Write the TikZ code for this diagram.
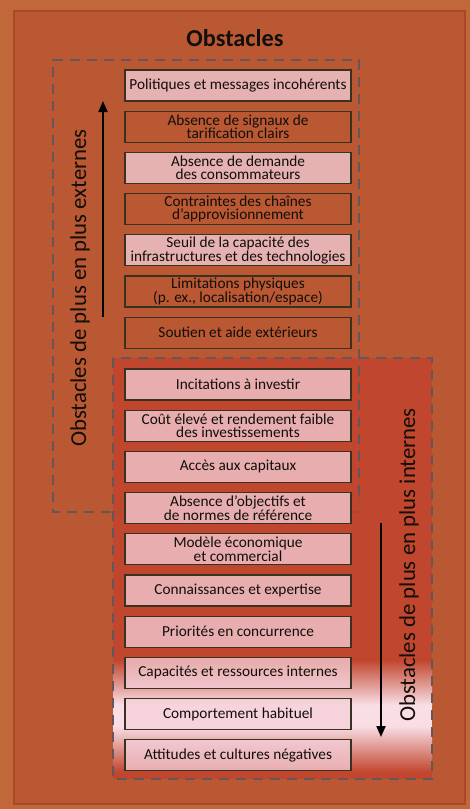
\documentclass[tikz,border=0pt]{standalone}
\usepackage{fontspec}
\setmainfont{Carlito}
\usetikzlibrary{arrows.meta}
\definecolor{outerbg}{RGB}{192,104,58}
\definecolor{innerbg}{RGB}{186,88,52}
\definecolor{innerframe}{RGB}{168,72,38}
\definecolor{intred}{RGB}{193,70,46}
\definecolor{paleend}{RGB}{249,222,230}
\definecolor{pinkfill}{RGB}{245,208,219}
\definecolor{boxline}{RGB}{58,50,32}
\definecolor{dashgray}{RGB}{100,86,92}
\definecolor{txt}{RGB}{18,14,10}
\begin{document}
\begin{tikzpicture}[x=1pt,y=-1pt,
 obox/.style={draw=boxline, line width=1.2pt, minimum width=226pt, minimum height=31pt, inner sep=0pt, align=center, text=txt, font=\fontsize{15.3}{13.6}\selectfont},
 pinkbox/.style={obox, fill=pinkfill, fill opacity=0.75, text opacity=1, draw opacity=1},
 orangebox/.style={obox, fill=innerbg},
 dashbox/.style={draw=dashgray, line width=2.7pt, dash pattern=on 10pt off 7pt},
 sidelabel/.style={rotate=90, font=\fontsize{22.8}{24}\selectfont, text=txt, inner sep=0pt},
 bigarrow/.style={line width=2pt, -{Triangle[length=11pt,width=9pt]}}
]
\useasboundingbox (0,0) rectangle (470,809);
\fill[outerbg] (0,0) rectangle (470,809);
\draw[innerframe, line width=2pt, fill=innerbg] (14,11) rectangle (465,804);
% internal zone with gradient
\fill[intred] (113,358) rectangle (432,779);
\shade[top color=intred, bottom color=paleend] (113,660) rectangle (432,705);
\fill[paleend] (113,704.5) rectangle (432,726.5);
\shade[top color=paleend, bottom color=intred] (113,726) rectangle (432,772);
% dashed frames
\draw[dashbox] (359,495) -- (359,60) -- (53,60) -- (53,512) -- (113,512);
\draw[dashbox, draw opacity=0.25] (113,512) -- (359,512) -- (359,495);
\draw[dashbox] (113,358) rectangle (432,779);
% title
\node[font=\fontsize{24.3}{27}\selectfont\bfseries, text=txt] (title) at (235,38) {Obstacles};
% boxes
\node[pinkbox]   (b1)  at (238,85.5)  {Politiques et messages incohérents};
\node[orangebox] (b2)  at (238,126.7) {Absence de signaux de\\tarification clairs};
\node[pinkbox]   (b3)  at (238,167.9) {Absence de demande\\des consommateurs};
\node[orangebox] (b4)  at (238,209.1) {Contraintes des chaînes\\d’approvisionnement};
\node[pinkbox]   (b5)  at (238,250.3) {Seuil de la capacité des\\infrastructures et des technologies};
\node[orangebox] (b6)  at (238,291.5) {Limitations physiques\\(p. ex., localisation/espace)};
\node[orangebox] (b7)  at (238,332.7) {Soutien et aide extérieurs};
\node[pinkbox]   (b8)  at (238,384.5) {Incitations à investir};
\node[pinkbox]   (b9)  at (238,425.7) {Coût élevé et rendement faible\\des investissements};
\node[pinkbox]   (b10) at (238,466.9) {Accès aux capitaux};
\node[pinkbox]   (b11) at (238,508.1) {Absence d’objectifs et\\de normes de référence};
\node[pinkbox]   (b12) at (238,549.3) {Modèle économique\\et commercial};
\node[pinkbox]   (b13) at (238,590.5) {Connaissances et expertise};
\node[pinkbox]   (b14) at (238,631.7) {Priorités en concurrence};
\node[pinkbox]   (b15) at (238,672.9) {Capacités et ressources internes};
\node[pinkbox]   (b16) at (238,714.1) {Comportement habituel};
\node[pinkbox]   (b17) at (238,755.3) {Attitudes et cultures négatives};
% arrows
\coordinate (la1) at (103,317);
\coordinate (la2) at (103,101);
\coordinate (ra1) at (381,523);
\coordinate (ra2) at (381,737);
\draw[bigarrow] (la1) -- (la2);
\draw[bigarrow] (ra1) -- (ra2);
% side labels
\node[sidelabel] (extlabel) at (80,288) {Obstacles de plus en plus externes};
\node[sidelabel] (intlabel) at (409,565) {Obstacles de plus en plus internes};
\end{tikzpicture}
\end{document}
